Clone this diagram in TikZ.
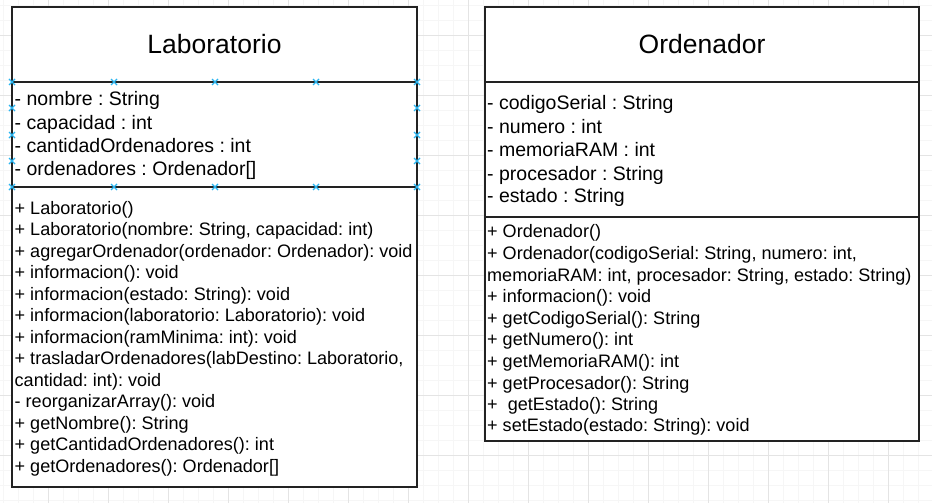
\documentclass[tikz,border=0pt]{standalone}
\usepackage{fontspec}
\setmainfont{Liberation Sans}
\frenchspacing
\definecolor{minorgrid}{RGB}{246,246,246}
\definecolor{majorgrid}{RGB}{228,228,228}
\definecolor{boxline}{RGB}{34,34,34}
\definecolor{handle}{RGB}{41,182,242}
\begin{document}
\begin{tikzpicture}[x=1pt,y=-1pt,
  title/.style={inner sep=0pt,anchor=base,font=\fontsize{26.5}{30}\selectfont},
  attr/.style={inner sep=0pt,anchor=base west,font=\fontsize{19.5}{22}\selectfont},
  meth/.style={inner sep=0pt,anchor=base west,font=\fontsize{18.05}{21}\selectfont},
  umlbox/.style={draw=boxline,line width=1.6pt,fill=white},
  divider/.style={draw=boxline,line width=1.6pt},
  hmark/.style={draw=handle,line width=1.2pt}]
\useasboundingbox (0,0) rectangle (932,503);
\fill[white] (0,0) rectangle (932,503);
% grid
\foreach \x in {3,18,...,932} \draw[minorgrid,line width=0.6pt] (\x,0) -- (\x,503);
\foreach \y in {5,20,...,503} \draw[minorgrid,line width=0.6pt] (0,\y) -- (932,\y);
\foreach \x in {48,108,...,932} \draw[majorgrid,line width=0.8pt] (\x,0) -- (\x,503);
\foreach \y in {35,95,...,503} \draw[majorgrid,line width=0.8pt] (0,\y) -- (932,\y);

% ---------- Laboratorio ----------
\coordinate (labTL) at (12,7);
\coordinate (labBR) at (417,487);
\draw[umlbox] (labTL) rectangle (labBR);
\coordinate (labD1L) at (12,82);  \coordinate (labD1R) at (417,82);
\coordinate (labD2L) at (12,187); \coordinate (labD2R) at (417,187);
\draw[divider] (labD1L) -- (labD1R);
\draw[divider] (labD2L) -- (labD2R);
\node[title] (labtitle) at (214.5,54) {Laboratorio};
\node[attr] (la1) at (14.5,106) {- nombre : String};
\node[attr] (la2) at (14.5,129) {- capacidad : int};
\node[attr] (la3) at (14.5,152) {- cantidadOrdenadores : int};
\node[attr] (la4) at (14.5,175) {- ordenadores : Ordenador[]};
\node[meth] (lm1) at (14.5,214) {+ Laboratorio()};
\node[meth] (lm2) at (14.5,235.5) {+ Laboratorio(nombre: String, capacidad: int)};
\node[meth] (lm3) at (14.5,257) {+ agregarOrdenador(ordenador: Ordenador): void};
\node[meth] (lm4) at (14.5,278.5) {+ informacion(): void};
\node[meth] (lm5) at (14.5,300) {+ informacion(estado: String): void};
\node[meth] (lm6) at (14.5,321.5) {+ informacion(laboratorio: Laboratorio): void};
\node[meth] (lm7) at (14.5,343) {+ informacion(ramMinima: int): void};
\node[meth] (lm8) at (14.5,364.5) {+ trasladarOrdenadores(labDestino: Laboratorio,};
\node[meth] (lm9) at (14.5,386) {cantidad: int): void};
\node[meth] (lm10) at (14.5,407.5) {- reorganizarArray(): void};
\node[meth] (lm11) at (14.5,429) {+ getNombre(): String};
\node[meth] (lm12) at (14.5,450.5) {+ getCantidadOrdenadores(): int};
\node[meth] (lm13) at (14.5,472) {+ getOrdenadores(): Ordenador[]};
% selection handles
\foreach \p in {(12,82),(114,82),(215,82),(316,82),(417,82),
                (12,187),(114,187),(215,187),(316,187),(417,187),
                (12,108),(12,135),(12,161),(417,108),(417,135),(417,161)}
  \draw[hmark] \p ++(-3,-3) -- ++(6,6) \p ++(-3,3) -- ++(6,-6);

% ---------- Ordenador ----------
\coordinate (ordTL) at (485,7);
\coordinate (ordBR) at (919,441);
\draw[umlbox] (ordTL) rectangle (ordBR);
\coordinate (ordD1L) at (485,82);  \coordinate (ordD1R) at (919,82);
\coordinate (ordD2L) at (485,217); \coordinate (ordD2R) at (919,217);
\draw[divider] (ordD1L) -- (ordD1R);
\draw[divider] (ordD2L) -- (ordD2R);
\node[title] (ordtitle) at (702,54) {Ordenador};
\node[attr] (oa1) at (487,109.5) {- codigoSerial : String};
\node[attr] (oa2) at (487,133) {- numero : int};
\node[attr] (oa3) at (487,156) {- memoriaRAM : int};
\node[attr] (oa4) at (487,180) {- procesador : String};
\node[attr] (oa5) at (487,202) {- estado : String};
\node[meth] (om1) at (487,237) {+ Ordenador()};
\node[meth] (om2) at (487,259) {+ Ordenador(codigoSerial: String, numero: int,};
\node[meth] (om3) at (487,281) {memoriaRAM: int, procesador: String, estado: String)};
\node[meth] (om4) at (487,302.5) {+ informacion(): void};
\node[meth] (om5) at (487,324) {+ getCodigoSerial(): String};
\node[meth] (om6) at (487,345.5) {+ getNumero(): int};
\node[meth] (om7) at (487,367) {+ getMemoriaRAM(): int};
\node[meth] (om8) at (487,389) {+ getProcesador(): String};
\node[meth] (om9) at (487,410) {+\ \ getEstado(): String};
\node[meth] (om10) at (487,431.5) {+ setEstado(estado: String): void};
\end{tikzpicture}
\end{document}
